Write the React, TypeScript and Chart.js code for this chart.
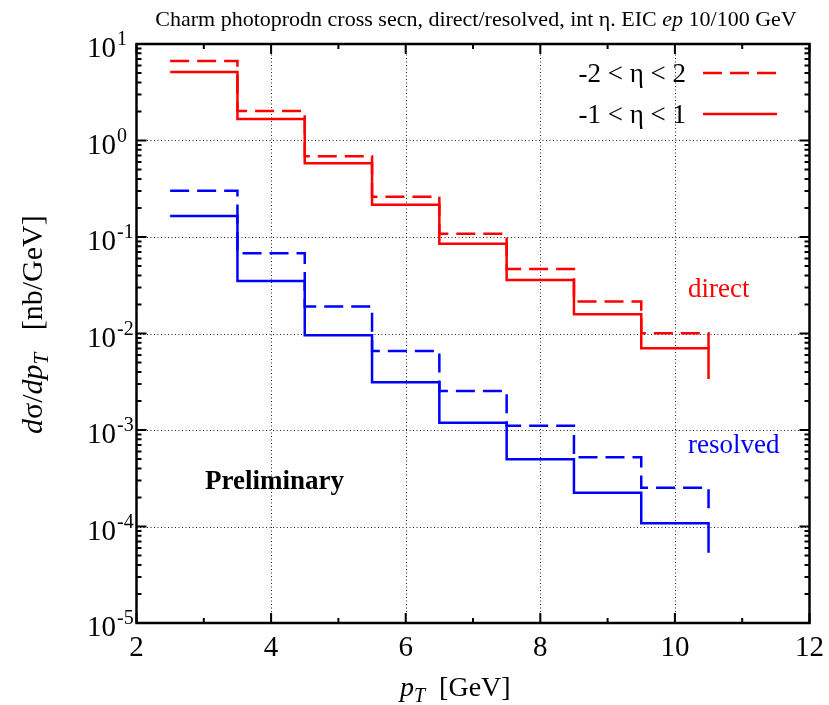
import React, { useEffect, useRef } from "react";
import { Chart, registerables } from "chart.js";
Chart.register(...registerables);

// ---- data ----
const binEdges = [2.5, 3.5, 4.5, 5.5, 6.5, 7.5, 8.5, 9.5, 10.5];
const directWide = [6.67, 2.02, 0.685, 0.262, 0.108, 0.0466, 0.0214, 0.01005];
const directWideEnd = 0.007;
const directNarrow = [5.13, 1.67, 0.58, 0.216, 0.0853, 0.0358, 0.0158, 0.00703];
const directNarrowEnd = 0.00337;
const resolvedWide = [0.302, 0.0678, 0.019, 0.00659, 0.00254, 0.00111, 0.000521, 0.000252];
const resolvedWideEnd = 0.000148;
const resolvedNarrow = [0.165, 0.035, 0.00957, 0.00312, 0.00119, 0.000497, 0.000224, 0.000108];
const resolvedNarrowEnd = 5.36e-5;

const xMajorTicks = [2, 4, 6, 8, 10, 12];
const xMinorTicks = [3, 5, 7, 9, 11];
const yExponents = [1, 0, -1, -2, -3, -4, -5];
const legendLabels = ["-2 < η < 2", "-1 < η < 1"];

const RED = "#ff0000";
const BLUE = "#0000ff";
const SERIF = "'Liberation Serif', 'Times New Roman', serif";

function steps(values: number[], end: number) {
  const pts: { x: number; y: number }[] = [];
  values.forEach((v, i) => {
    pts.push({ x: binEdges[i], y: v });
    pts.push({ x: binEdges[i + 1], y: v });
  });
  pts.push({ x: binEdges[binEdges.length - 1], y: end });
  return pts;
}

type Seg = { t: string; f: string; dy?: number };
function segWidth(ctx: CanvasRenderingContext2D, segs: Seg[]) {
  let w = 0;
  for (const s of segs) {
    ctx.font = s.f;
    w += ctx.measureText(s.t).width;
  }
  return w;
}
function drawSegs(ctx: CanvasRenderingContext2D, segs: Seg[], x: number, y: number) {
  let cx = x;
  ctx.textAlign = "left";
  ctx.textBaseline = "alphabetic";
  for (const s of segs) {
    ctx.font = s.f;
    ctx.fillText(s.t, cx, y + (s.dy || 0));
    cx += ctx.measureText(s.t).width;
  }
}

const deco = {
  id: "deco",
  beforeDatasetsDraw(chart: any) {
    const { ctx, chartArea: a, scales } = chart;
    const xs = scales.x;
    const ys = scales.y;
    ctx.save();
    ctx.strokeStyle = "#222";
    ctx.lineWidth = 1;
    ctx.setLineDash([1, 2.5]);
    for (const v of xMajorTicks) {
      const px = Math.round(xs.getPixelForValue(v)) + 0.5;
      if (px <= a.left + 2 || px >= a.right - 2) continue;
      ctx.beginPath();
      ctx.moveTo(px, a.top);
      ctx.lineTo(px, a.bottom);
      ctx.stroke();
    }
    for (const e of yExponents) {
      const py = Math.round(ys.getPixelForValue(Math.pow(10, e))) + 0.5;
      if (py <= a.top + 2 || py >= a.bottom - 2) continue;
      ctx.beginPath();
      ctx.moveTo(a.left, py);
      ctx.lineTo(a.right, py);
      ctx.stroke();
    }
    ctx.restore();
  },
  afterDatasetsDraw(chart: any) {
    const { ctx, chartArea: a, scales } = chart;
    const xs = scales.x;
    const ys = scales.y;
    ctx.save();
    ctx.setLineDash([]);
    ctx.strokeStyle = "#000";
    ctx.fillStyle = "#000";
    // ticks (inward on all sides)
    ctx.lineWidth = 2;
    const major = 10;
    const minor = 5;
    const vt = (px: number, len: number) => {
      ctx.beginPath();
      ctx.moveTo(px, a.bottom);
      ctx.lineTo(px, a.bottom - len);
      ctx.moveTo(px, a.top);
      ctx.lineTo(px, a.top + len);
      ctx.stroke();
    };
    const ht = (py: number, len: number) => {
      ctx.beginPath();
      ctx.moveTo(a.left, py);
      ctx.lineTo(a.left + len, py);
      ctx.moveTo(a.right, py);
      ctx.lineTo(a.right - len, py);
      ctx.stroke();
    };
    xMajorTicks.forEach((v) => vt(xs.getPixelForValue(v), major));
    xMinorTicks.forEach((v) => vt(xs.getPixelForValue(v), minor));
    yExponents.forEach((e) => ht(ys.getPixelForValue(Math.pow(10, e)), major));
    for (const e of yExponents) {
      if (e >= 1) continue;
      for (let m = 2; m <= 9; m++) ht(ys.getPixelForValue(m * Math.pow(10, e)), minor);
    }
    // border
    ctx.lineWidth = 2.5;
    ctx.strokeRect(a.left, a.top, a.right - a.left, a.bottom - a.top);

    // x tick labels
    ctx.font = `29px ${SERIF}`;
    ctx.textAlign = "center";
    ctx.textBaseline = "alphabetic";
    for (const v of xMajorTicks) {
      ctx.fillText(String(v), xs.getPixelForValue(v), 656);
    }
    // y tick labels 10^e
    for (const e of yExponents) {
      const py = ys.getPixelForValue(Math.pow(10, e));
      ctx.font = `29px ${SERIF}`;
      ctx.textAlign = "right";
      ctx.fillText("10", 116, py + 13);
      ctx.font = `20px ${SERIF}`;
      ctx.textAlign = "left";
      ctx.fillText(String(e), 117, py + 1);
    }

    // title
    const tSegs: Seg[] = [
      { t: "Charm photoprodn cross secn, direct/resolved, int η. EIC ", f: `22px ${SERIF}` },
      { t: "ep", f: `italic 22px ${SERIF}` },
      { t: " 10/100 GeV", f: `22px ${SERIF}` },
    ];
    const tw = segWidth(ctx, tSegs);
    drawSegs(ctx, tSegs, 476 - tw / 2, 26);

    // x axis title
    const xSegs: Seg[] = [
      { t: "p", f: `italic 28px ${SERIF}` },
      { t: "T", f: `italic 20px ${SERIF}`, dy: 6 },
      { t: "  [GeV]", f: `28px ${SERIF}` },
    ];
    drawSegs(ctx, xSegs, 400, 696);

    // y axis title
    const ySegs: Seg[] = [
      { t: "d", f: `italic 30px ${SERIF}` },
      { t: "σ", f: `30px ${SERIF}` },
      { t: "/", f: `30px ${SERIF}` },
      { t: "dp", f: `italic 30px ${SERIF}` },
      { t: "T", f: `italic 21px ${SERIF}`, dy: 6 },
      { t: "   [nb/GeV]", f: `30px ${SERIF}` },
    ];
    ctx.save();
    ctx.translate(42, 434);
    ctx.rotate(-Math.PI / 2);
    drawSegs(ctx, ySegs, 0, 0);
    ctx.restore();

    // legend
    const legY = [73, 114];
    const legDash = [[19, 8], []];
    legendLabels.forEach((lab, i) => {
      ctx.font = `27px ${SERIF}`;
      ctx.textAlign = "right";
      ctx.fillStyle = "#000";
      ctx.fillText(lab, 686, legY[i] + 9);
      ctx.strokeStyle = RED;
      ctx.lineWidth = 2.5;
      ctx.setLineDash(legDash[i]);
      ctx.beginPath();
      ctx.moveTo(703, legY[i]);
      ctx.lineTo(777, legY[i]);
      ctx.stroke();
    });
    ctx.setLineDash([]);

    // annotations
    ctx.textAlign = "left";
    ctx.font = `27px ${SERIF}`;
    ctx.fillStyle = RED;
    ctx.fillText("direct", 688, 297);
    ctx.fillStyle = BLUE;
    ctx.fillText("resolved", 688, 453);
    ctx.fillStyle = "#000";
    ctx.font = `bold 27px ${SERIF}`;
    ctx.fillText("Preliminary", 205, 489);
    ctx.restore();
  },
};

export default function App() {
  const ref = useRef<HTMLCanvasElement | null>(null);
  useEffect(() => {
    if (!ref.current) return;
    const mk = (label: string, values: number[], end: number, color: string, dashed: boolean) => ({
      label,
      data: steps(values, end),
      borderColor: color,
      backgroundColor: color,
      borderWidth: 2.5,
      borderDash: dashed ? [19, 8] : [],
      pointRadius: 0,
      pointHoverRadius: 0,
      fill: false,
      tension: 0,
      borderCapStyle: "butt" as const,
      borderJoinStyle: "miter" as const,
    });
    const chart = new Chart(ref.current, {
      type: "line",
      data: {
        datasets: [
          mk("direct -2<η<2", directWide, directWideEnd, RED, true),
          mk("direct -1<η<1", directNarrow, directNarrowEnd, RED, false),
          mk("resolved -2<η<2", resolvedWide, resolvedWideEnd, BLUE, true),
          mk("resolved -1<η<1", resolvedNarrow, resolvedNarrowEnd, BLUE, false),
        ],
      },
      options: {
        animation: false,
        responsive: false,
        devicePixelRatio: 1,
        layout: { padding: { left: 136.5, top: 44, right: 19.5, bottom: 82 } },
        plugins: { legend: { display: false }, title: { display: false }, tooltip: { enabled: false } },
        events: [],
        scales: {
          x: { type: "linear", min: 2, max: 12, display: false },
          y: { type: "logarithmic", min: 1e-5, max: 10, display: false },
        },
      },
      plugins: [deco],
    });
    return () => chart.destroy();
  }, []);
  return (
    <div style={{ position: "absolute", left: 0, top: 0, width: 829, height: 705, background: "#fff" }}>
      <canvas ref={ref} width={829} height={705} />
    </div>
  );
}
